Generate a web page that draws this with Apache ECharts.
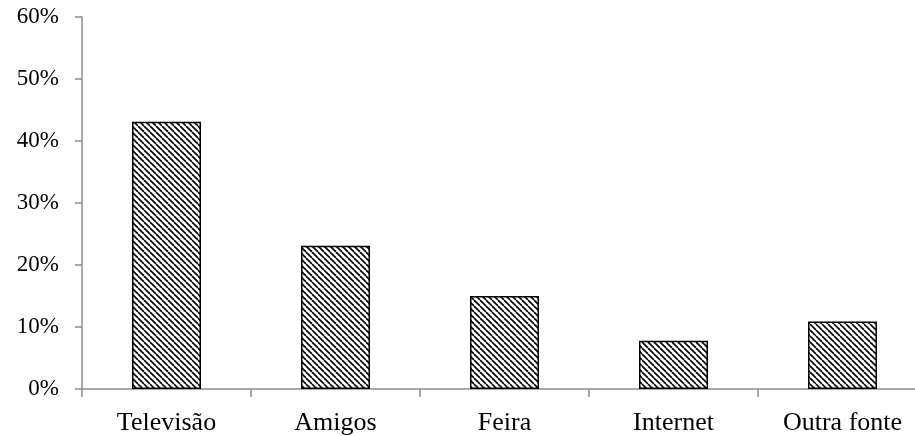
<!DOCTYPE html>
<html>
<head>
<meta charset="utf-8">
<script src="https://cdn.jsdelivr.net/npm/echarts@6/dist/echarts.min.js"></script>
<style>
  html, body { margin: 0; padding: 0; background: #fff; }
  #chart { width: 915px; height: 436px; }
</style>
</head>
<body>
<div id="chart"></div>
<script>
// Source of information (share of respondents)
const categories = ['Televisão', 'Amigos', 'Feira', 'Internet', 'Outra fonte'];
const shares = [43.1, 23.1, 15.0, 7.8, 10.9];
const yTicks = [0, 10, 20, 30, 40, 50, 60];

// Diagonal hatch fill (top-left to bottom-right stripes)
function hatchPattern() {
  const size = 6;
  const c = document.createElement('canvas');
  c.width = size; c.height = size;
  const ctx = c.getContext('2d');
  ctx.fillStyle = '#fff';
  ctx.fillRect(0, 0, size, size);
  ctx.strokeStyle = '#000';
  ctx.lineWidth = 1.6;
  for (const off of [-size, 0, size]) {
    ctx.beginPath();
    ctx.moveTo(off, 0);
    ctx.lineTo(off + size, size);
    ctx.stroke();
  }
  return c;
}

const axisGray = '#8c8c8c';
const chart = echarts.init(document.getElementById('chart'), null, { renderer: 'canvas' });
chart.setOption({
  animation: false,
  backgroundColor: '#fff',
  // plot area runs a little past the right edge of the canvas
  grid: { left: 82, top: 17, width: 845, height: 372, containLabel: false, outerBoundsMode: 'none' },
  xAxis: {
    type: 'category',
    data: categories,
    boundaryGap: true,
    axisLine: { lineStyle: { color: axisGray, width: 1.5 } },
    axisTick: { show: true, length: 8, alignWithLabel: false, lineStyle: { color: axisGray, width: 1.5 } },
    axisLabel: { color: '#000', fontFamily: 'Liberation Serif', fontSize: 26, margin: 21 }
  },
  yAxis: {
    type: 'value',
    min: yTicks[0],
    max: yTicks[yTicks.length - 1],
    interval: 10,
    splitLine: { show: false },
    axisLine: { show: true, lineStyle: { color: axisGray, width: 1.5 } },
    axisTick: { show: true, length: 7, lineStyle: { color: axisGray, width: 1.5 } },
    axisLabel: {
      color: '#000', fontFamily: 'Liberation Serif', fontSize: 23, margin: 23,
      formatter: v => v + '%'
    }
  },
  series: [{
    type: 'bar',
    data: shares,
    barWidth: 69,
    itemStyle: {
      color: { image: hatchPattern(), repeat: 'repeat' },
      borderColor: '#000',
      borderWidth: 1.5
    }
  }]
});
</script>
</body>
</html>
